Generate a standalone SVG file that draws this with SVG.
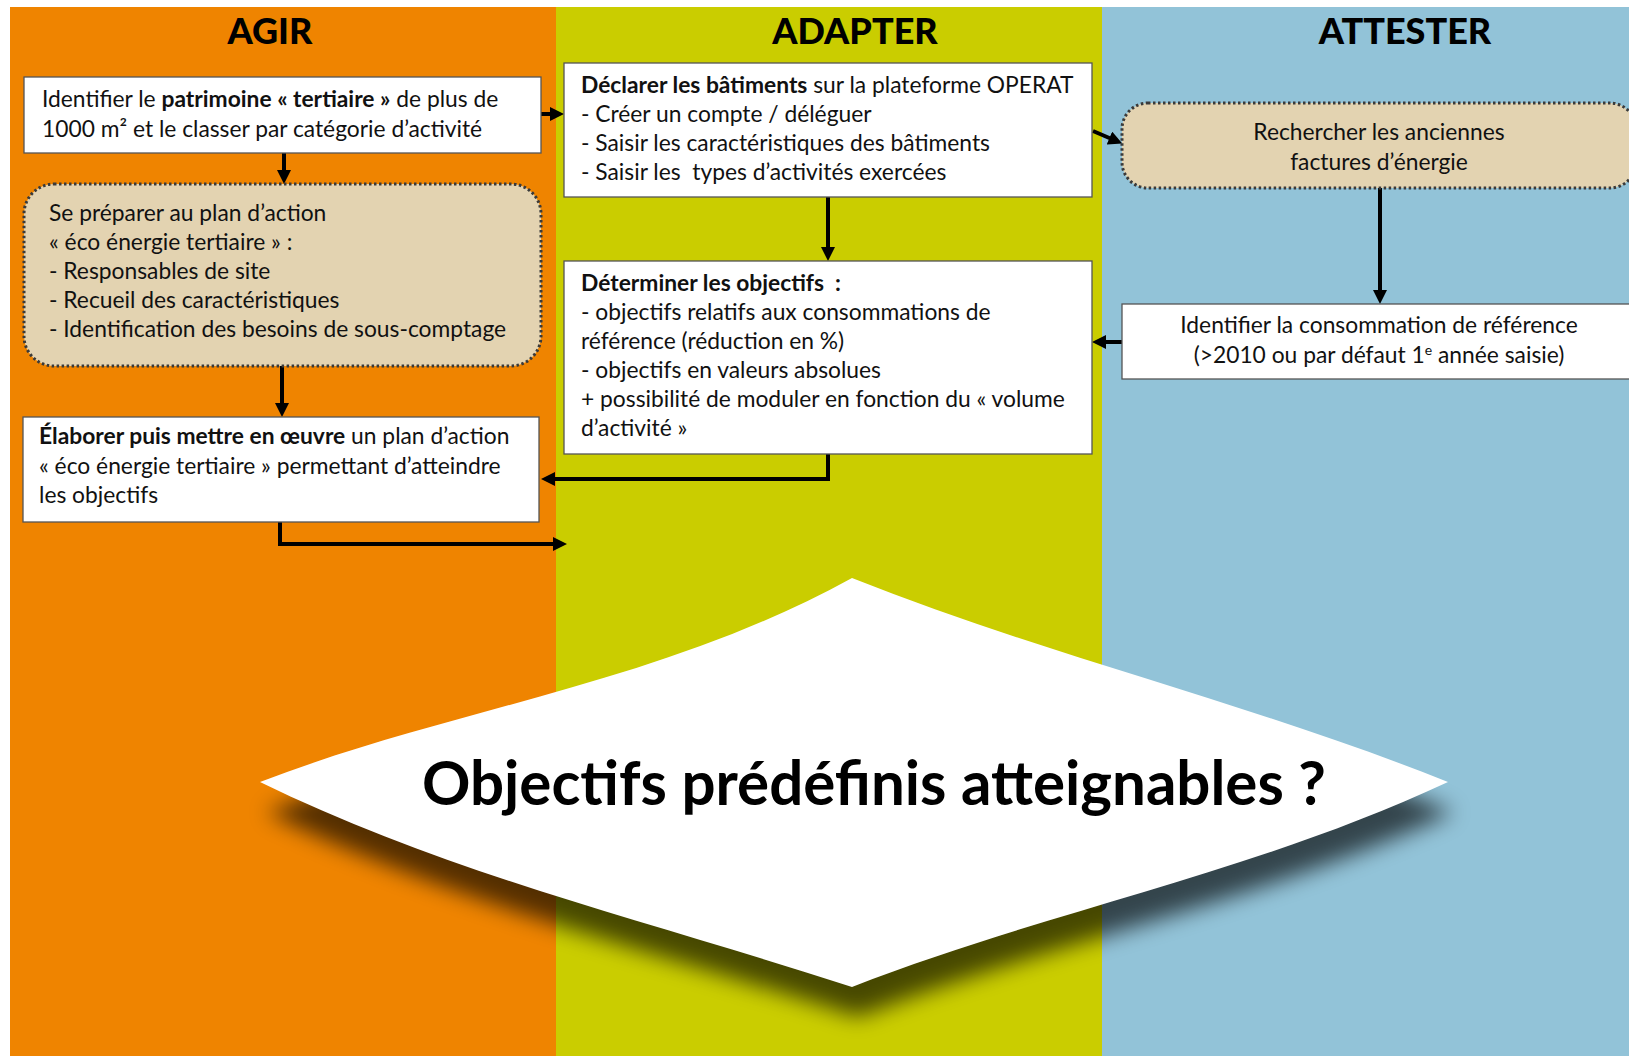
<svg xmlns="http://www.w3.org/2000/svg" width="1629" height="1056" viewBox="0 0 1629 1056">
  <defs>
    <style>
      .t { font-family: Lato, "Open Sans", "Liberation Sans", sans-serif; font-size: 22.8px; fill: #111; white-space: pre; }
      .b { font-weight: bold; }
      .h { font-family: Lato, "Open Sans", "Liberation Sans", sans-serif; font-size: 36px; font-weight: 900; fill: #000; text-anchor: middle; }
      .box { fill: #ffffff; stroke: #555; stroke-width: 1.3; }
      .dot { fill: #E3D3B1; stroke: #3a3a3a; stroke-width: 3; stroke-dasharray: 2.5 2.5; }
      .c { fill: none; stroke: #000; stroke-width: 4; }
      .mid { text-anchor: middle; }
    </style>
    <marker id="ah" viewBox="0 0 14 14" refX="5" refY="7" markerWidth="14" markerHeight="14" markerUnits="userSpaceOnUse" orient="auto">
      <path d="M0,0 L14,7 L0,14 z" fill="#000"/>
    </marker>
    <filter id="sh" x="-10%" y="-10%" width="120%" height="130%">
      <feGaussianBlur in="SourceAlpha" stdDeviation="11"/>
      <feOffset dx="6" dy="30" result="o"/>
      <feComponentTransfer><feFuncA type="linear" slope="0.65"/></feComponentTransfer>
    </filter>
  </defs>

  <!-- background columns -->
  <rect x="0" y="0" width="1629" height="1056" fill="#ffffff"/>
  <rect x="10" y="7" width="546" height="1049" fill="#EF8400"/>
  <rect x="556" y="7" width="546" height="1049" fill="#CACD00"/>
  <rect x="1102" y="7" width="527" height="1049" fill="#92C3D8"/>

  <text class="h" x="270" y="44">AGIR</text>
  <text class="h" x="855" y="44">ADAPTER</text>
  <text class="h" x="1405" y="44">ATTESTER</text>

  <!-- decision diamond -->
  <g id="decision">
    <path d="M852,578 C1050,657 1248,702 1448,782 C1251,874 1049,910 852,987 C657,923 455,877 260,782 C455,707 657,685 852,578 Z" fill="#000" filter="url(#sh)"/>
    <path d="M852,578 C1050,657 1248,702 1448,782 C1251,874 1049,910 852,987 C657,923 455,877 260,782 C455,707 657,685 852,578 Z" fill="#ffffff"/>
    <text x="422" y="805" font-family="Lato, 'Open Sans', 'Liberation Sans', sans-serif" font-weight="bold" font-size="61" fill="#000" textLength="904" lengthAdjust="spacingAndGlyphs">Objectifs prédéfinis atteignables ?</text>
  </g>

  <g id="connectors">
    <path class="c" d="M541,114 L555,114" marker-end="url(#ah)"/>
    <path class="c" d="M284,153 L284,175" marker-end="url(#ah)"/>
    <path class="c" d="M282,366 L282,408" marker-end="url(#ah)"/>
    <path class="c" d="M280,522 L280,544 L558,544" marker-end="url(#ah)"/>
    <path class="c" d="M828,196 L828,252" marker-end="url(#ah)"/>
    <path class="c" d="M828,454 L828,479 L550,479" marker-end="url(#ah)"/>
    <path class="c" d="M1093,131 L1114,140" marker-end="url(#ah)"/>
    <path class="c" d="M1380,188 L1380,295" marker-end="url(#ah)"/>
    <path class="c" d="M1122,342 L1101,342" marker-end="url(#ah)"/>
  </g>

  <g id="n-identifier">
    <rect class="box" x="24" y="77" width="517" height="76"/>
    <text class="t" x="42" y="107">Identifier le <tspan class="b">patrimoine « tertiaire »</tspan> de plus de</text>
    <text class="t" x="42" y="137">1000 m² et le classer par catégorie d’activité</text>
  </g>

  <g id="n-preparer">
    <rect class="dot" x="24" y="184" width="517" height="182" rx="30" ry="30"/>
    <text class="t" x="49" y="221">Se préparer au plan d’action</text>
    <text class="t" x="49" y="250">« éco énergie tertiaire » :</text>
    <text class="t" x="49" y="279">- Responsables de site</text>
    <text class="t" x="49" y="308">- Recueil des caractéristiques</text>
    <text class="t" x="49" y="337">- Identification des besoins de sous-comptage</text>
  </g>

  <g id="n-elaborer">
    <rect class="box" x="23" y="417" width="516" height="105"/>
    <text class="t" x="39" y="444"><tspan class="b">Élaborer puis mettre en œuvre</tspan> un plan d’action</text>
    <text class="t" x="39" y="474">« éco énergie tertiaire » permettant d’atteindre</text>
    <text class="t" x="39" y="503">les objectifs</text>
  </g>

  <g id="n-declarer">
    <rect class="box" x="564" y="63" width="528" height="134"/>
    <text class="t" x="581" y="93"><tspan class="b">Déclarer les bâtiments</tspan> sur la plateforme OPERAT</text>
    <text class="t" x="581" y="122">- Créer un compte / déléguer</text>
    <text class="t" x="581" y="151">- Saisir les caractéristiques des bâtiments</text>
    <text class="t" x="581" y="180">- Saisir les  types d’activités exercées</text>
  </g>

  <g id="n-determiner">
    <rect class="box" x="564" y="261" width="528" height="193"/>
    <text class="t" x="581" y="291"><tspan class="b">Déterminer les objectifs  :</tspan></text>
    <text class="t" x="581" y="320">- objectifs relatifs aux consommations de</text>
    <text class="t" x="581" y="349">référence (réduction en %)</text>
    <text class="t" x="581" y="378">- objectifs en valeurs absolues</text>
    <text class="t" x="581" y="407">+ possibilité de moduler en fonction du « volume</text>
    <text class="t" x="581" y="436">d’activité »</text>
  </g>

  <g id="n-rechercher">
    <rect class="dot" x="1122" y="103" width="514" height="85" rx="26" ry="26"/>
    <text class="t mid" x="1379" y="140">Rechercher les anciennes</text>
    <text class="t mid" x="1379" y="170">factures d’énergie</text>
  </g>

  <g id="n-reference">
    <rect class="box" x="1122" y="304" width="514" height="75"/>
    <text class="t mid" x="1379" y="333">Identifier la consommation de référence</text>
    <text class="t mid" x="1379" y="363">(&gt;2010 ou par défaut 1<tspan font-size="14" dy="-8">e</tspan><tspan dy="8"> année saisie)</tspan></text>
  </g>
</svg>
